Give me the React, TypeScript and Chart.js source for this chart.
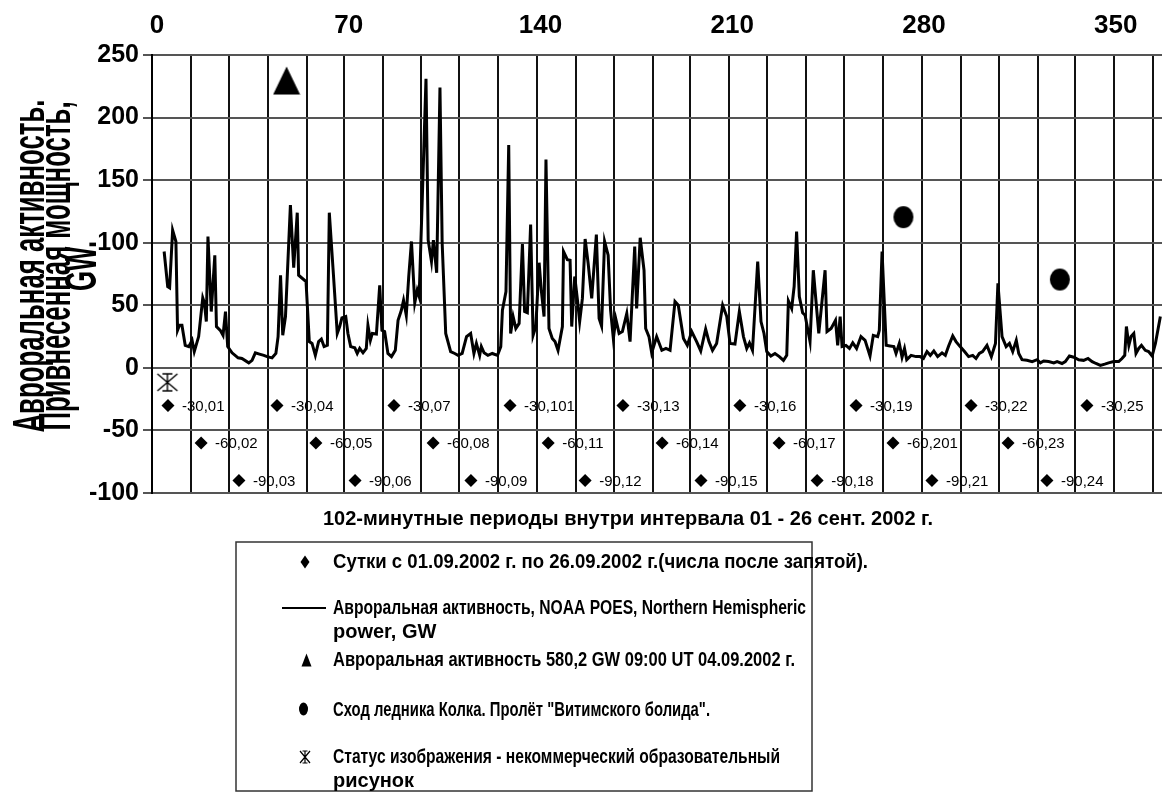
import { useEffect, useRef } from 'react';
import { Chart, registerables } from 'chart.js';

Chart.register(...registerables);

const FONT = '"Liberation Sans", Arial, sans-serif';

// 102-minute periods (x) and Northern Hemispheric power, GW (y)
const period = [
  2.6, 3.9, 4.6, 5.7, 6.9, 7.5, 8.2, 9.1, 10.3, 11.6,
  12.8, 13.6, 15.2, 16.7, 17.3, 18.0, 18.6, 19.8, 21.1, 21.7,
  23.1, 24.1, 25.0, 25.8, 27.4, 29.6, 31.0, 33.5, 34.7, 35.9,
  37.4, 39.0, 40.2, 42.0, 43.4, 44.2, 45.1, 45.9, 46.9, 48.7,
  49.9, 51.2, 51.7, 54.4, 55.6, 56.6, 57.8, 59.0, 60.0, 61.0,
  62.2, 62.9, 64.3, 65.8, 66.7, 67.5, 68.9, 69.7, 70.7, 72.2,
  73.1, 74.0, 75.2, 76.4, 77.0, 77.9, 78.6, 80.1, 81.3, 82.1,
  83.1, 84.3, 85.6, 87.0, 88.0, 89.2, 90.0, 91.0, 91.9, 92.9,
  94.1, 95.0, 95.7, 96.8, 98.2, 99.0, 100.2, 100.9, 102.1, 103.3,
  104.1, 105.4, 107.2, 108.7, 109.9, 111.4, 113.0, 114.5, 115.7, 116.6,
  117.8, 118.4, 119.4, 120.8, 122.4, 124.3, 125.5, 126.1, 127.4, 128.4,
  129.1, 130.0, 131.0, 132.2, 133.4, 134.2, 135.2, 136.4, 137.3, 138.3,
  139.5, 140.3, 141.3, 142.0, 143.1, 144.3, 145.3, 146.4, 148.0, 148.4,
  149.8, 150.8, 151.4, 152.5, 153.5, 154.3, 155.3, 156.3, 157.4, 158.7,
  160.4, 161.4, 162.3, 163.4, 164.7, 165.6, 166.6, 167.5, 168.7, 169.9,
  171.5, 172.7, 174.4, 175.1, 176.4, 177.8, 178.4, 179.6, 180.6, 182.4,
  184.3, 185.8, 187.3, 189.1, 190.3, 192.2, 193.6, 195.2, 197.0, 198.5,
  200.3, 201.5, 202.8, 204.3, 206.5, 208.0, 209.2, 211.0, 212.6, 214.1,
  215.3, 216.3, 217.4, 219.3, 220.5, 221.6, 222.6, 224.1, 225.6, 227.2,
  228.7, 229.9, 230.5, 231.7, 232.6, 233.5, 234.5, 235.7, 236.6, 238.4,
  239.6, 241.6, 242.7, 243.9, 244.6, 246.1, 247.7, 248.5, 249.4, 250.1,
  251.5, 252.8, 254.0, 255.4, 257.0, 258.5, 260.3, 261.5, 263.1, 263.7,
  264.7, 266.2, 267.6, 269.0, 269.8, 271.0, 272.0, 272.9, 273.7, 275.3,
  277.1, 278.6, 279.8, 281.1, 282.3, 283.6, 285.0, 286.6, 287.8, 289.0,
  290.5, 291.7, 293.2, 294.8, 296.3, 297.8, 299.0, 300.2, 301.4, 303.0,
  304.6, 306.1, 307.0, 308.5, 310.0, 311.2, 312.4, 313.7, 314.6, 315.8,
  317.6, 319.5, 321.3, 322.5, 323.7, 325.5, 327.4, 328.6, 330.4, 331.6,
  333.1, 334.7, 336.5, 338.3, 339.9, 341.4, 342.8, 344.4, 346.0, 347.4,
  349.3, 351.1, 352.3, 353.3, 353.9, 354.8, 355.6, 356.6, 357.4, 358.4,
  359.4, 360.8, 362.0, 363.3, 364.5, 366.3,
];

const power = [
  93, 65, 64, 110, 101, 30, 34, 34, 18, 17,
  22, 13, 25, 56, 52, 37, 105, 45, 90, 33,
  30, 26, 45, 17, 12, 8, 7.5, 4, 6, 12,
  11, 10, 9, 8, 11.5, 25, 74, 26, 41, 130,
  80, 124, 74, 69, 21, 19.5, 10, 21, 23, 17,
  18, 124, 78, 27.5, 33, 40, 41, 27.5, 17, 16,
  11.5, 15.5, 12, 15.5, 34, 22, 27.5, 27, 66, 30,
  29, 11.5, 9, 14, 38, 46, 54, 42, 73, 101,
  52, 62, 57, 132, 231, 102, 85, 102, 76, 224,
  100, 27.5, 13, 11.5, 10, 11.5, 25, 27.5, 11.5, 19.5,
  10, 17, 12, 10, 11.5, 10, 17, 46, 61, 178,
  27.5, 41, 31.5, 35.5, 99, 45, 44, 114.5, 26, 33,
  84, 62, 41, 166.5, 31.5, 23.5, 21, 14, 33, 93,
  86.5, 86, 33, 73, 54, 37, 55.5, 103, 83.5, 55.5,
  106.5, 39.5, 33.5, 101, 90, 46, 23.5, 39, 27.5, 29,
  43.5, 21, 97, 47.5, 104, 78, 31.5, 25, 12, 25,
  14, 15.5, 14, 53, 50, 23.5, 18, 29, 21, 13.5,
  31, 21, 14, 19.5, 50, 41, 19.5, 19, 45, 25,
  15.5, 20, 14, 85, 37, 27.5, 13, 9.5, 11.5, 9,
  6, 10, 53.5, 47.5, 65, 109, 57, 44, 42, 21,
  78, 27.5, 51.5, 78, 29, 31.5, 38, 18, 41, 17,
  18, 15.5, 20, 15.5, 25, 22, 9.5, 26, 25, 30,
  93, 18, 17.5, 17, 11.5, 19.5, 8.5, 15.5, 6.5, 10,
  9, 9, 7.5, 13, 10, 13.5, 9, 12, 10, 17.5,
  25.5, 21, 17, 13, 9, 10, 7.5, 11.5, 13, 18,
  9, 19.5, 67.5, 25, 17, 19.5, 13, 22, 11.5, 6.5,
  6, 5, 6.5, 4, 5.5, 5, 4, 5, 3.5, 5,
  9.5, 8.5, 6.5, 6, 7.5, 5, 3.5, 2, 3, 4,
  5, 5, 7.5, 10, 33, 18, 25, 27.5, 11.5, 15.5,
  18, 14, 13, 9.5, 19.5, 41,
];

// Axis ticks
const topTicks = [0, 70, 140, 210, 280, 350];
const yTicks = [-100, -50, 0, 50, 100, 150, 200, 250];
const X_MIN = -1.83;
const X_MAX = 366.9;

// Day boundaries (vertical grid lines)
const dayBoundaries = [
  -1.8, 12.3, 26.3, 40.5, 54.7, 68.3, 82.4, 96.3, 110.4, 124.6, 138.7, 152.9, 166.9,
  181.0, 194.6, 208.7, 222.7, 236.8, 250.9, 265.2, 279.3, 293.4, 307.5, 321.5, 335.2,
  349.3, 363.5,
];

// Day markers: position, level and day number
const dayX = [
  4.0, 16.1, 29.9, 43.8, 58.0, 72.3, 86.5, 100.8, 114.6, 128.9, 142.8, 156.3, 170.1,
  184.4, 198.6, 212.8, 227.1, 241.0, 255.2, 268.7, 282.9, 297.2, 310.7, 324.9, 339.5,
];
const dayY = [
  -30, -60, -90, -30, -60, -90, -30, -60, -90, -30, -60, -90, -30,
  -60, -90, -30, -60, -90, -30, -60, -90, -30, -60, -90, -30,
];
const dayNames = [
  '01', '02', '03', '04', '05', '06', '07', '08', '09', '101', '11', '12', '13',
  '14', '15', '16', '17', '18', '19', '201', '21', '22', '23', '24', '25',
];

// Single events
const peakX = [47.3];
const peakY = [229.6];
const eventX = [272.5, 329.6];
const eventY = [120.4, 70.6];
const statusX = [3.8];
const statusY = [-11.6];

const yTitleLines = ['Авроральная активность.', 'Привнесённая мощность,', 'GW.'];
const xTitle = '102-минутные периоды внутри интервала 01 - 26 сент. 2002 г.';
const legendLabels = [
  ['Сутки с 01.09.2002 г. по 26.09.2002 г.(числа после запятой).'],
  ['Авроральная активность, NOAA POES, Northern Hemispheric', 'power, GW'],
  ['Авроральная активность 580,2 GW 09:00 UT 04.09.2002 г.'],
  ['Сход ледника Колка. Пролёт "Витимского болида".'],
  ['Статус изображения - некоммерческий образовательный', 'рисунок'],
];

function makeCanvas(w: number, h: number, draw: (c: CanvasRenderingContext2D) => void) {
  const cv = document.createElement('canvas');
  cv.width = w;
  cv.height = h;
  const c = cv.getContext('2d')!;
  draw(c);
  return cv;
}

function drawDiamond(c: CanvasRenderingContext2D, x: number, y: number, w: number, h: number) {
  c.beginPath();
  c.moveTo(x, y - h / 2);
  c.lineTo(x + w / 2, y);
  c.lineTo(x, y + h / 2);
  c.lineTo(x - w / 2, y);
  c.closePath();
  c.fill();
}

function drawTriangle(c: CanvasRenderingContext2D, x: number, y: number, w: number, h: number) {
  c.beginPath();
  c.moveTo(x, y - h / 2);
  c.lineTo(x + w / 2, y + h / 2);
  c.lineTo(x - w / 2, y + h / 2);
  c.closePath();
  c.fill();
}

function drawStar(c: CanvasRenderingContext2D, x: number, y: number, w: number, h: number) {
  const l = x - w / 2, r = x + w / 2, t = y - h / 2, b = y + h / 2;
  c.beginPath();
  c.moveTo(x, t); c.lineTo(x, b);
  c.moveTo(l, t); c.lineTo(r, b);
  c.moveTo(r, t); c.lineTo(l, b);
  c.moveTo(x - w * 0.25, t); c.lineTo(x + w * 0.25, t);
  c.moveTo(x - w * 0.25, b); c.lineTo(x + w * 0.25, b);
  c.stroke();
}

// draws text starting at x, squeezed horizontally so that it ends at `right`
function fitText(c: CanvasRenderingContext2D, t: string, x: number, y: number, right: number) {
  const w = c.measureText(t).width;
  const s = Math.min(1, (right - x) / w);
  c.save();
  c.translate(x, y);
  c.scale(s, 1);
  c.fillText(t, 0, 0);
  c.restore();
}

const overlay = {
  id: 'overlay',
  afterDatasetsDraw(chart: any) {
    const ctx: CanvasRenderingContext2D = chart.ctx;
    ctx.save();
    ctx.fillStyle = '#000';
    ctx.font = `15px ${FONT}`;
    ctx.textAlign = 'left';
    ctx.textBaseline = 'middle';
    const meta = chart.getDatasetMeta(1);
    meta.data.forEach((pt: any, i: number) => {
      ctx.fillText(`${dayY[i]},${dayNames[i]}`, pt.x + 14, pt.y + 1);
    });
    ctx.restore();
  },
  afterDraw(chart: any) {
    const ctx: CanvasRenderingContext2D = chart.ctx;
    ctx.save();
    ctx.fillStyle = '#000';
    ctx.strokeStyle = '#000';

    // vertical axis title
    ctx.font = `bold 44px ${FONT}`;
    const sy = 333 / ctx.measureText(yTitleLines[0]).width;
    const baseX = [44, 70, 96];
    ctx.textAlign = 'center';
    ctx.textBaseline = 'alphabetic';
    yTitleLines.forEach((t, i) => {
      ctx.save();
      ctx.translate(baseX[i], 266);
      ctx.rotate(-Math.PI / 2);
      ctx.scale(sy, 1);
      ctx.fillText(t, 0, 0);
      ctx.restore();
    });

    // horizontal axis title
    ctx.font = `bold 21px ${FONT}`;
    const sx = 610 / ctx.measureText(xTitle).width;
    ctx.save();
    ctx.translate(628, 519);
    ctx.scale(sx, 1);
    ctx.textBaseline = 'middle';
    ctx.fillText(xTitle, 0, 0);
    ctx.restore();

    // legend box
    ctx.lineWidth = 1.5;
    ctx.strokeStyle = '#333';
    ctx.strokeRect(236, 542, 576, 249);

    ctx.strokeStyle = '#000';
    drawDiamond(ctx, 305, 562, 9, 13);
    ctx.lineWidth = 2;
    ctx.beginPath();
    ctx.moveTo(282, 608);
    ctx.lineTo(326, 608);
    ctx.stroke();
    drawTriangle(ctx, 306.5, 660, 10, 13);
    ctx.beginPath();
    ctx.ellipse(303.5, 709, 4.5, 6.5, 0, 0, Math.PI * 2);
    ctx.fill();
    ctx.lineWidth = 1.2;
    drawStar(ctx, 305, 757, 10, 12);

    ctx.font = `bold 20px ${FONT}`;
    ctx.textAlign = 'left';
    ctx.textBaseline = 'middle';
    const rows = [[562], [608, 632], [660], [710], [757, 781]];
    const ends = [[868], [806, 437], [795], [710], [780, 415]];
    legendLabels.forEach((lines, i) => {
      lines.forEach((t, j) => fitText(ctx, t, 333, rows[i][j], ends[i][j]));
    });
    ctx.restore();
  },
};

export default function App() {
  const ref = useRef<HTMLCanvasElement>(null);

  useEffect(() => {
    document.body.style.margin = '0';
    const canvas = ref.current!;

    const triImg = makeCanvas(28, 29, (c) => {
      c.fillStyle = '#000';
      drawTriangle(c, 14, 14.5, 27, 28);
    });
    const dotImg = makeCanvas(22, 24, (c) => {
      c.fillStyle = '#000';
      c.beginPath();
      c.ellipse(11, 12, 10, 11, 0, 0, Math.PI * 2);
      c.fill();
    });
    const starImg = makeCanvas(24, 21, (c) => {
      c.strokeStyle = '#000';
      c.lineWidth = 1.4;
      drawStar(c, 12, 10.5, 20, 17);
    });

    const chart = new Chart(canvas, {
      type: 'line',
      data: {
        datasets: [
          {
            type: 'line',
            data: period.map((x, i) => ({ x, y: power[i] })),
            borderColor: '#000',
            borderWidth: 3,
            pointRadius: 0,
            tension: 0,
            fill: false,
          },
          {
            type: 'scatter',
            data: dayX.map((x, i) => ({ x, y: dayY[i] })),
            pointStyle: 'rectRot',
            pointRadius: 6.5,
            backgroundColor: '#000',
            borderColor: '#000',
            borderWidth: 0,
          },
          {
            type: 'scatter',
            data: peakX.map((x, i) => ({ x, y: peakY[i] })),
            pointStyle: triImg as any,
            pointRadius: 10,
          },
          {
            type: 'scatter',
            data: eventX.map((x, i) => ({ x, y: eventY[i] })),
            pointStyle: dotImg as any,
            pointRadius: 10,
          },
          {
            type: 'scatter',
            data: statusX.map((x, i) => ({ x, y: statusY[i] })),
            pointStyle: starImg as any,
            pointRadius: 10,
          },
        ] as any,
      },
      options: {
        responsive: false,
        animation: false,
        devicePixelRatio: 1,
        layout: { padding: 0, autoPadding: false },
        plugins: { legend: { display: false }, tooltip: { enabled: false } },
        scales: {
          x: {
            type: 'linear',
            position: 'bottom',
            min: X_MIN,
            max: X_MAX,
            afterBuildTicks: (s: any) => {
              s.ticks = dayBoundaries.map((v) => ({ value: v }));
            },
            ticks: { display: false },
            grid: { color: '#111', lineWidth: 2, drawTicks: false },
            border: { display: true, color: '#555', width: 2 },
            afterFit: (s: any) => {
              s.height = 792 - 493;
              s.paddingLeft = 0;
              s.paddingRight = 0;
            },
          },
          xTop: {
            type: 'linear',
            position: 'top',
            min: X_MIN,
            max: X_MAX,
            afterBuildTicks: (s: any) => {
              s.ticks = topTicks.map((v) => ({ value: v }));
            },
            ticks: {
              color: '#000',
              font: { family: FONT, size: 26, weight: 'bold' },
              padding: 14,
              maxRotation: 0,
              autoSkip: false,
            },
            grid: { display: false, drawTicks: false },
            border: { display: false },
            afterFit: (s: any) => {
              s.height = 55;
              s.paddingLeft = 0;
              s.paddingRight = 0;
            },
          },
          y: {
            type: 'linear',
            min: -100,
            max: 250,
            afterBuildTicks: (s: any) => {
              s.ticks = yTicks.map((v) => ({ value: v }));
            },
            ticks: {
              color: '#000',
              font: { family: FONT, size: 25, weight: 'bold' },
              padding: 4,
            },
            grid: { color: '#555', lineWidth: 2, tickLength: 9 },
            border: { display: true, color: '#000', width: 2 },
            afterFit: (s: any) => {
              s.width = 152;
            },
          },
        },
      } as any,
      plugins: [overlay],
    });

    return () => chart.destroy();
  }, []);

  return <canvas ref={ref} width={1162} height={792} style={{ display: 'block' }} />;
}
